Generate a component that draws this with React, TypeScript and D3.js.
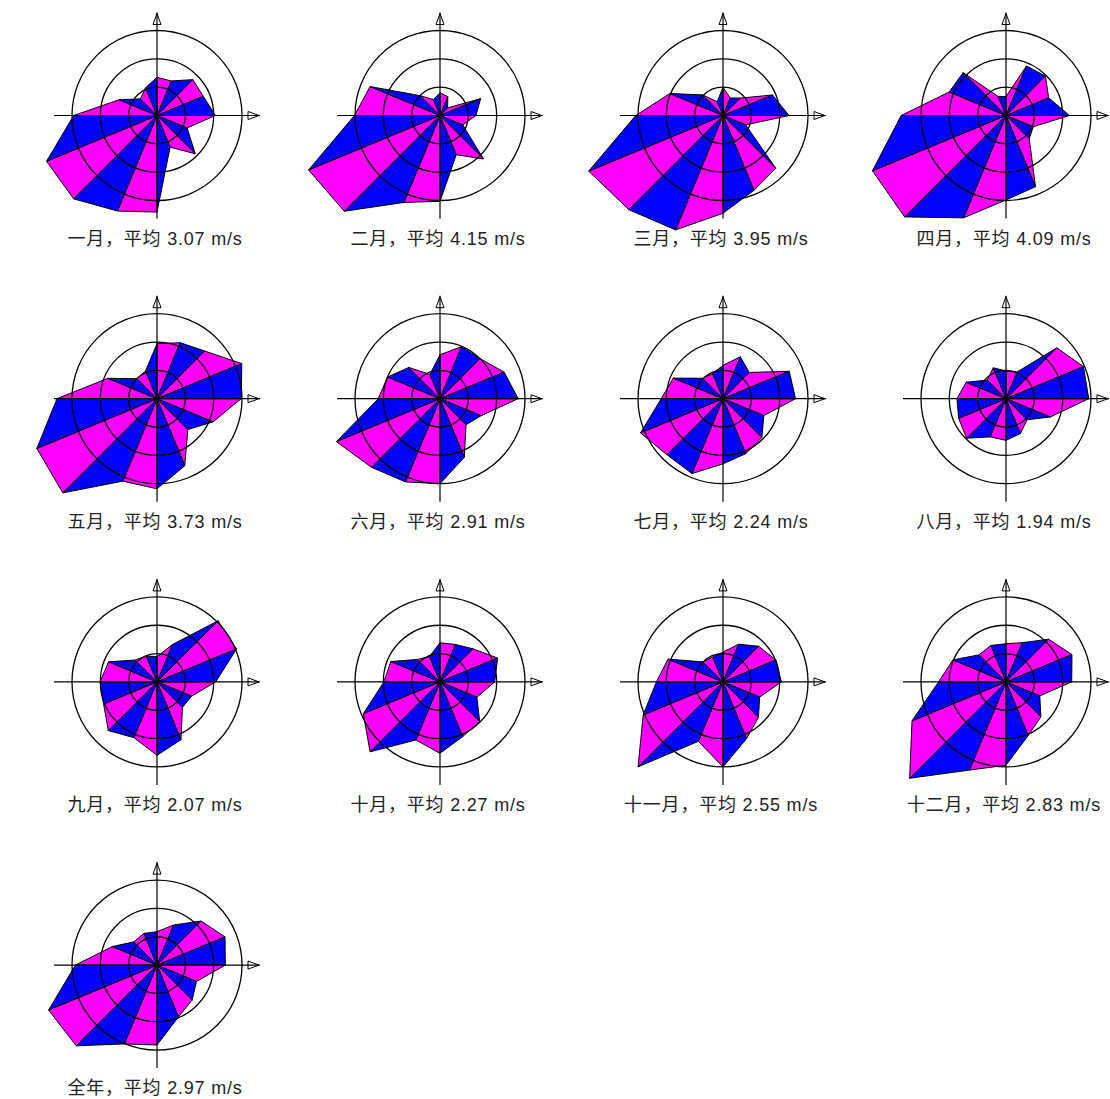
import React from 'react';
import * as d3 from 'd3';

// 16 compass sectors, clockwise from north
const directions = ['N', 'NNE', 'NE', 'ENE', 'E', 'ESE', 'SE', 'SSE', 'S', 'SSW', 'SW', 'WSW', 'W', 'WNW', 'NW', 'NNW'];

const titles = ['一月', '二月', '三月', '四月', '五月', '六月', '七月', '八月', '九月', '十月', '十一月', '十二月', '全年'];
const means = [3.07, 4.15, 3.95, 4.09, 3.73, 2.91, 2.24, 1.94, 2.07, 2.27, 2.55, 2.83, 2.97];

// mean wind speed (m/s) per direction, N → NNW
const jan = [1.35, 1.32, 1.79, 1.77, 2.06, 1.15, 1.91, 1.21, 3.41, 3.65, 4.16, 4.22, 2.94, 1.45, 0.83, 1.06];
const feb = [0.8, 0.72, 0.38, 1.55, 1.27, 0.87, 2.17, 1.5, 3.03, 3.32, 4.78, 5.02, 3.02, 2.67, 0.99, 0.61];
const mar = [1.0, 0.67, 0.87, 1.89, 2.33, 0.87, 2.63, 2.86, 3.45, 4.37, 4.7, 5.13, 3.08, 2.03, 1.03, 0.53];
const apr = [0.67, 1.89, 1.97, 1.63, 2.24, 1.04, 1.16, 2.72, 2.98, 3.91, 5.06, 5.1, 3.7, 2.17, 2.14, 0.73];
const may = [1.94, 2.14, 2.38, 3.24, 2.97, 2.14, 1.54, 2.56, 3.18, 3.15, 4.7, 4.59, 3.53, 1.88, 1.0, 1.06];
const jun = [1.55, 1.99, 2.0, 2.45, 2.76, 1.57, 1.3, 2.24, 3.0, 3.18, 3.42, 3.96, 2.18, 2.0, 1.56, 0.93];
const jul = [1.18, 1.6, 1.31, 2.53, 2.56, 1.56, 1.94, 2.1, 2.3, 2.86, 2.8, 3.15, 2.18, 1.9, 1.02, 0.96];
const aug = [0.98, 1.02, 2.54, 2.96, 2.92, 1.69, 1.05, 1.33, 1.47, 1.46, 1.97, 1.81, 1.73, 1.52, 0.93, 1.18];
const sep = [0.89, 1.43, 3.05, 3.04, 2.07, 1.32, 1.27, 2.21, 2.59, 2.13, 2.43, 2.04, 2.01, 1.85, 1.09, 0.99];
const oct = [1.38, 1.43, 1.65, 2.2, 1.93, 1.41, 1.98, 2.09, 2.52, 2.22, 3.49, 2.93, 1.98, 1.88, 1.12, 0.97];
const nov = [1.05, 1.44, 1.78, 2.02, 2.06, 1.4, 1.77, 2.17, 3.0, 2.27, 4.24, 3.05, 2.35, 2.1, 1.0, 0.95];
const dec = [1.35, 1.5, 2.13, 2.52, 2.32, 1.29, 1.74, 2.05, 2.94, 3.37, 4.81, 3.59, 2.38, 2.03, 1.35, 1.39];
const year = [1.18, 1.53, 2.2, 2.6, 2.41, 1.51, 1.75, 1.98, 2.82, 3.01, 4.03, 4.14, 2.88, 1.71, 1.16, 1.21];

const roses = [jan, feb, mar, apr, may, jun, jul, aug, sep, oct, nov, dec, year];

// reference circles (m/s)
const rings = [1, 2, 3];

const COLS = 4;
const X0 = 157;
const Y0 = 115.5;
const DX = 283;
const DY = 283.2;
const AXIS = 103;

const radius = d3.scaleLinear().domain([0, 3]).range([0, 85]);
const angle = d3.scaleLinear().domain([0, directions.length]).range([0, 2 * Math.PI]);

function Rose({ values, title, mean }: { values: number[]; title: string; mean: number }) {
  const pts = values.map((v, i) => d3.pointRadial(angle(i), radius(v)) as [number, number]);
  const n = pts.length;
  return (
    <g>
      {pts.map((p, i) => {
        const q = pts[(i + 1) % n];
        const d = d3.line()([[0, 0], p, q]) + 'Z';
        return (
          <path
            key={directions[i]}
            d={d}
            fill={i % 2 === 0 ? '#ff00ff' : '#0000ff'}
            stroke="#000"
            strokeWidth={1}
            strokeLinejoin="round"
          />
        );
      })}
      {rings.map((v) => (
        <circle key={v} r={radius(v)} fill="none" stroke="#000" strokeWidth={1.3} />
      ))}
      <line x1={-AXIS} y1={0} x2={AXIS} y2={0} stroke="#000" strokeWidth={1.2} />
      <line x1={0} y1={-AXIS} x2={0} y2={AXIS} stroke="#000" strokeWidth={1.2} />
      <path d={`M${AXIS - 12},-4L${AXIS - 1},0L${AXIS - 12},4Z`} fill="none" stroke="#000" strokeWidth={1} />
      <path d={`M-4,${-AXIS + 12}L0,${-AXIS + 1}L4,${-AXIS + 12}Z`} fill="none" stroke="#000" strokeWidth={1} />
      <text
        x={-2}
        y={129}
        textAnchor="middle"
        fontSize={18}
        letterSpacing={0.8}
        fill="#222"
        fontFamily="'Liberation Sans', Arial, 'Noto Sans CJK SC', sans-serif"
      >
        {`${title}，平均 ${mean.toFixed(2)} m/s`}
      </text>
    </g>
  );
}

export default function App() {
  return (
    <svg
      width={1110}
      height={1099}
      style={{ position: 'absolute', left: 0, top: 0, background: '#fff' }}
    >
      <rect width={1110} height={1099} fill="#fff" />
      {roses.map((values, k) => {
        const col = k % COLS;
        const row = Math.floor(k / COLS);
        return (
          <g key={titles[k]} transform={`translate(${X0 + col * DX},${Y0 + row * DY})`}>
            <Rose values={values} title={titles[k]} mean={means[k]} />
          </g>
        );
      })}
    </svg>
  );
}
